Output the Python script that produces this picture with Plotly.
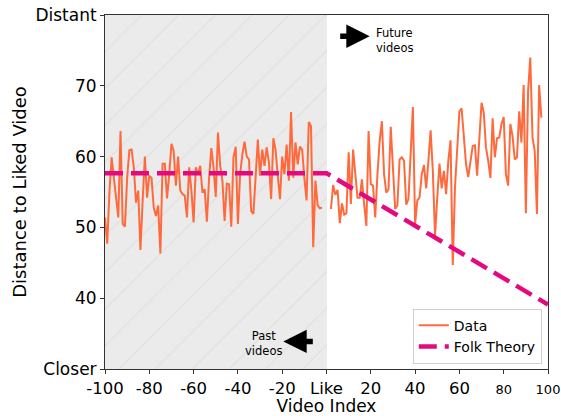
import plotly.graph_objects as go

# ---- data ----
past_x = list(range(-100, -1))  # -100 .. -2
past_y = [51.4, 47.7, 55.0, 59.9, 57.0, 54.5, 51.4, 63.6, 50.5, 50.1,
          57.0, 60.9, 61.0, 58.5, 53.5, 55.2, 46.8, 53.8, 60.0, 54.2,
          57.3, 57.0, 52.8, 51.6, 53.1, 46.3, 59.0, 59.0, 54.1, 57.5,
          61.8, 60.8, 55.9, 60.0, 55.2, 54.7, 54.5, 51.4, 58.5, 55.2,
          50.7, 58.5, 57.5, 58.7, 54.9, 55.4, 50.8, 57.0, 61.2, 58.5,
          54.3, 63.4, 58.7, 56.6, 50.9, 56.2, 56.1, 50.1, 59.9, 61.4,
          50.5, 57.5, 60.3, 62.1, 60.0, 59.6, 52.3, 51.9, 57.5, 62.4,
          57.3, 61.0, 58.7, 61.3, 59.2, 54.0, 62.6, 61.0, 57.3, 54.0,
          60.0, 57.5, 61.7, 56.6, 66.3, 57.0, 62.0, 58.9, 61.4, 61.0,
          57.0, 53.8, 64.9, 64.3, 47.2, 56.6, 53.1, 52.7, 52.8]
future_x = list(range(2, 98))  # 2 .. 97
future_y = [52.6, 56.0, 54.6, 55.3, 50.6, 53.4, 51.8, 52.0, 60.6, 53.3,
            61.0, 57.3, 54.2, 54.2, 56.8, 53.3, 50.2, 63.6, 56.1, 55.9,
            51.4, 57.5, 62.2, 65.0, 57.5, 54.9, 55.4, 64.2, 57.5, 52.6,
            53.1, 59.6, 59.9, 59.4, 53.2, 54.0, 60.5, 67.0, 50.5, 53.8,
            54.2, 57.5, 58.8, 55.5, 59.4, 63.7, 58.0, 48.8, 54.2, 59.0,
            55.5, 58.0, 54.7, 59.4, 62.3, 44.7, 55.6, 61.3, 66.4, 66.8,
            62.2, 58.9, 57.1, 59.4, 61.5, 61.6, 57.3, 62.5, 67.6, 66.2,
            61.3, 59.4, 57.0, 65.4, 59.9, 62.6, 62.7, 64.6, 65.6, 57.5,
            55.9, 64.6, 62.9, 59.6, 59.9, 66.4, 62.0, 70.1, 52.0, 69.2,
            74.0, 62.7, 60.8, 51.9, 70.1, 65.5]
folk_x = [-100, 0, 100]
folk_y = [57.66, 57.66, 39.1]

x_tickvals = [-100, -80, -60, -40, -20, 0, 20, 40, 60, 80, 100]
x_ticktext = ["-100", "-80", "-60", "-40", "-20", "Like", "20", "40", "60",
              "<span style='font-size:13px'>80</span>",
              "<span style='font-size:13px'>100</span>"]
y_tickvals = [30, 40, 50, 60, 70, 80]
y_ticktext = ["Closer", "40", "50", "60", "70", "Distant"]

X_MIN, X_MAX = -100, 100
Y_MIN, Y_MAX = 30, 80

DATA_COLOR = "#ff6a3d"
FOLK_COLOR = "#e5087e"
FONT = "DejaVu Sans"

fig = go.Figure()

# shaded "past" region with hatch
fig.add_trace(go.Bar(
    x=[(X_MIN + 0) / 2], y=[Y_MAX - Y_MIN], base=[Y_MIN], width=[0 - X_MIN],
    marker=dict(color="#ebebeb", line=dict(width=0),
                pattern=dict(shape="/", fgcolor="#d6d6d6", bgcolor="#ebebeb",
                             size=26, solidity=0.05)),
    showlegend=False, hoverinfo="skip"))

fig.add_trace(go.Scatter(
    x=past_x + [None] + future_x, y=past_y + [None] + future_y,
    mode="lines", name="Data", connectgaps=False,
    line=dict(color=DATA_COLOR, width=2)))

fig.add_trace(go.Scatter(
    x=folk_x, y=folk_y, mode="lines", name="Folk Theory",
    line=dict(color=FOLK_COLOR, width=4.5, dash="18px,8px")))

fig.update_layout(
    width=561, height=416,
    margin=dict(l=105, r=13, t=15, b=47),
    plot_bgcolor="white", paper_bgcolor="white",
    font=dict(family=FONT, size=17, color="black"),
    bargap=0,
    legend=dict(x=0.986, y=0.015, xanchor="right", yanchor="bottom",
                bgcolor="rgba(255,255,255,0.9)", bordercolor="#d0d0d0",
                borderwidth=1, font=dict(size=14, family=FONT),
                tracegroupgap=0),
    xaxis=dict(range=[X_MIN, X_MAX], tickmode="array", tickvals=x_tickvals,
               ticktext=x_ticktext, showgrid=False, zeroline=False,
               showline=True, linecolor="#333", linewidth=1, mirror=True,
               ticks="outside", ticklen=4, tickcolor="#333", automargin=False,
               tickfont=dict(size=16.5), ticklabeloverflow="allow",
               title=dict(text="Video Index", standoff=6, font=dict(size=17))),
    yaxis=dict(range=[Y_MIN, Y_MAX], tickmode="array", tickvals=y_tickvals,
               ticktext=y_ticktext, showgrid=False, zeroline=False,
               showline=True, linecolor="#333", linewidth=1, mirror=True,
               ticks="outside", ticklen=4, tickcolor="#333", automargin=False,
               tickfont=dict(size=17), ticklabeloverflow="allow",
               title=dict(text="Distance to Liked Video", standoff=4,
                          font=dict(size=18))),
)

# arrows and labels
fig.add_annotation(x=19.5, y=77.0, ax=5.5, ay=77.0, axref="x", ayref="y",
                   xref="x", yref="y", text="", showarrow=True,
                   arrowhead=2, arrowwidth=5.5, arrowsize=0.85, arrowcolor="black")
fig.add_annotation(x=21.5, y=76.4, xref="x", yref="y", xanchor="left",
                   text="Future<br>videos", showarrow=False, align="left",
                   font=dict(size=11.5, family=FONT))
fig.add_annotation(x=-19.5, y=33.9, ax=-5.5, ay=33.9, axref="x", ayref="y",
                   xref="x", yref="y", text="", showarrow=True,
                   arrowhead=2, arrowwidth=5.5, arrowsize=0.85, arrowcolor="black")
fig.add_annotation(x=-28.5, y=33.6, xref="x", yref="y", xanchor="center",
                   text="Past<br>videos", showarrow=False, align="center",
                   font=dict(size=11.5, family=FONT))

# remove the default 8px page margin so the figure fills the window exactly
fig.write_html("out.html",
               config={"displayModeBar": False},
               post_script="document.body.style.margin='0';"
                           "document.body.style.overflow='hidden';")
